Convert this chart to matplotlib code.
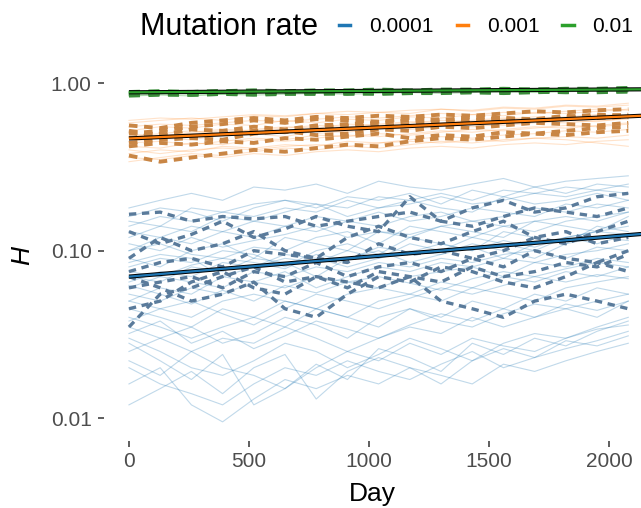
import matplotlib
matplotlib.use("Agg")
import matplotlib.pyplot as plt
from matplotlib.lines import Line2D
from matplotlib.ticker import FixedLocator, NullLocator

plt.rcParams['font.family'] = ['Liberation Sans', 'DejaVu Sans']

# sampling days of each replicate
days = [0, 130, 260, 390, 520, 650, 780, 910, 1040, 1170, 1300, 1430, 1560, 1690, 1820, 1950, 2080]

# ---- mutation rate 0.0001 ----
blue_thin = [
    [0.18, 0.2, 0.22, 0.2, 0.24, 0.23, 0.25, 0.22, 0.26, 0.24, 0.23, 0.25, 0.27, 0.24, 0.26, 0.27, 0.28],
    [0.15, 0.14, 0.18, 0.17, 0.19, 0.2, 0.18, 0.21, 0.2, 0.22, 0.19, 0.23, 0.21, 0.24, 0.22, 0.25, 0.24],
    [0.12, 0.14, 0.13, 0.16, 0.15, 0.17, 0.19, 0.16, 0.18, 0.2, 0.18, 0.17, 0.21, 0.19, 0.2, 0.22, 0.2],
    [0.10, 0.12, 0.11, 0.13, 0.12, 0.14, 0.13, 0.15, 0.14, 0.16, 0.17, 0.15, 0.16, 0.18, 0.17, 0.19, 0.18],
    [0.09, 0.08, 0.10, 0.11, 0.09, 0.12, 0.11, 0.1, 0.13, 0.12, 0.14, 0.13, 0.12, 0.15, 0.14, 0.13, 0.16],
    [0.08, 0.09, 0.085, 0.1, 0.095, 0.08, 0.1, 0.11, 0.095, 0.12, 0.11, 0.10, 0.13, 0.12, 0.11, 0.14, 0.13],
    [0.07, 0.065, 0.08, 0.075, 0.09, 0.085, 0.07, 0.09, 0.1, 0.085, 0.095, 0.11, 0.1, 0.09, 0.11, 0.12, 0.115],
    [0.06, 0.07, 0.065, 0.06, 0.075, 0.07, 0.08, 0.075, 0.085, 0.08, 0.09, 0.085, 0.095, 0.1, 0.09, 0.105, 0.1],
    [0.055, 0.05, 0.06, 0.055, 0.065, 0.06, 0.07, 0.065, 0.06, 0.07, 0.075, 0.08, 0.07, 0.085, 0.08, 0.09, 0.085],
    [0.05, 0.045, 0.04, 0.05, 0.055, 0.05, 0.045, 0.055, 0.06, 0.055, 0.065, 0.06, 0.07, 0.065, 0.075, 0.07, 0.08],
    [0.045, 0.04, 0.035, 0.045, 0.04, 0.05, 0.045, 0.04, 0.05, 0.055, 0.05, 0.06, 0.055, 0.05, 0.06, 0.065, 0.07],
    [0.04, 0.035, 0.03, 0.035, 0.04, 0.035, 0.045, 0.04, 0.035, 0.045, 0.04, 0.05, 0.045, 0.055, 0.05, 0.06, 0.055],
    [0.035, 0.03, 0.025, 0.03, 0.028, 0.035, 0.03, 0.025, 0.03, 0.035, 0.032, 0.04, 0.035, 0.04, 0.045, 0.04, 0.05],
    [0.03, 0.025, 0.02, 0.018, 0.022, 0.028, 0.025, 0.02, 0.024, 0.03, 0.026, 0.022, 0.028, 0.032, 0.03, 0.035, 0.04],
    [0.02, 0.016, 0.014, 0.012, 0.016, 0.02, 0.018, 0.022, 0.019, 0.017, 0.021, 0.025, 0.02, 0.023, 0.026, 0.029, 0.033],
    [0.016, 0.02, 0.012, 0.0095, 0.013, 0.017, 0.015, 0.018, 0.016, 0.02, 0.018, 0.016, 0.021, 0.019, 0.022, 0.025, 0.028],
    [0.025, 0.03, 0.035, 0.028, 0.032, 0.04, 0.036, 0.03, 0.04, 0.045, 0.038, 0.035, 0.042, 0.048, 0.045, 0.05, 0.055],
    [0.11, 0.1, 0.12, 0.105, 0.115, 0.125, 0.14, 0.12, 0.13, 0.125, 0.14, 0.15, 0.14, 0.13, 0.15, 0.16, 0.17],
    [0.065, 0.075, 0.07, 0.085, 0.08, 0.095, 0.09, 0.08, 0.09, 0.1, 0.095, 0.105, 0.09, 0.11, 0.12, 0.11, 0.125],
    [0.13, 0.12, 0.14, 0.13, 0.15, 0.14, 0.16, 0.15, 0.17, 0.15, 0.16, 0.18, 0.17, 0.16, 0.19, 0.18, 0.2],
    [0.085, 0.095, 0.09, 0.07, 0.08, 0.09, 0.085, 0.1, 0.09, 0.11, 0.1, 0.12, 0.11, 0.1, 0.12, 0.13, 0.14],
    [0.022, 0.018, 0.025, 0.02, 0.018, 0.015, 0.02, 0.025, 0.022, 0.028, 0.024, 0.03, 0.027, 0.025, 0.03, 0.034, 0.036],
    [0.05, 0.06, 0.055, 0.07, 0.065, 0.075, 0.06, 0.07, 0.08, 0.075, 0.085, 0.08, 0.09, 0.085, 0.095, 0.1, 0.11],
    [0.14, 0.16, 0.15, 0.17, 0.16, 0.18, 0.17, 0.2, 0.18, 0.19, 0.21, 0.19, 0.2, 0.22, 0.21, 0.23, 0.22],
    [0.028, 0.022, 0.017, 0.024, 0.012, 0.015, 0.021, 0.017, 0.026, 0.023, 0.019, 0.028, 0.024, 0.03, 0.027, 0.033, 0.038],
    [0.012, 0.015, 0.019, 0.014, 0.02, 0.024, 0.013, 0.019, 0.023, 0.02, 0.016, 0.022, 0.026, 0.023, 0.029, 0.027, 0.031],
    [0.038, 0.045, 0.05, 0.042, 0.036, 0.045, 0.055, 0.05, 0.045, 0.052, 0.06, 0.055, 0.062, 0.07, 0.065, 0.072, 0.068],
    [0.1, 0.11, 0.095, 0.09, 0.105, 0.1, 0.12, 0.13, 0.11, 0.14, 0.13, 0.12, 0.14, 0.15, 0.16, 0.15, 0.17],
    [0.16, 0.18, 0.17, 0.15, 0.18, 0.2, 0.19, 0.18, 0.21, 0.2, 0.22, 0.2, 0.23, 0.22, 0.24, 0.23, 0.25],
    [0.062, 0.055, 0.048, 0.058, 0.05, 0.062, 0.056, 0.065, 0.07, 0.064, 0.058, 0.068, 0.075, 0.07, 0.078, 0.085, 0.08],
    [0.075, 0.07, 0.082, 0.09, 0.085, 0.078, 0.095, 0.088, 0.105, 0.098, 0.11, 0.1, 0.115, 0.105, 0.12, 0.13, 0.125],
    [0.032, 0.038, 0.028, 0.033, 0.026, 0.031, 0.038, 0.034, 0.03, 0.036, 0.042, 0.038, 0.045, 0.04, 0.048, 0.044, 0.05],
]
blue_dash = [
    [0.165, 0.17, 0.15, 0.16, 0.155, 0.16, 0.14, 0.15, 0.16, 0.17, 0.15, 0.18, 0.2, 0.17, 0.18, 0.21, 0.22],
    [0.13, 0.11, 0.125, 0.15, 0.12, 0.135, 0.16, 0.14, 0.13, 0.21, 0.15, 0.14, 0.16, 0.18, 0.17, 0.16, 0.18],
    [0.09, 0.12, 0.10, 0.11, 0.13, 0.10, 0.09, 0.12, 0.14, 0.12, 0.11, 0.13, 0.15, 0.12, 0.11, 0.13, 0.15],
    [0.075, 0.085, 0.09, 0.08, 0.10, 0.095, 0.09, 0.085, 0.11, 0.095, 0.10, 0.09, 0.10, 0.12, 0.13, 0.11, 0.12],
    [0.06, 0.065, 0.07, 0.06, 0.075, 0.07, 0.085, 0.07, 0.08, 0.085, 0.075, 0.09, 0.08, 0.10, 0.09, 0.085, 0.10],
    [0.045, 0.05, 0.065, 0.075, 0.06, 0.055, 0.07, 0.06, 0.075, 0.07, 0.065, 0.08, 0.07, 0.075, 0.085, 0.08, 0.095],
    [0.035, 0.055, 0.06, 0.07, 0.08, 0.065, 0.07, 0.065, 0.06, 0.07, 0.05, 0.045, 0.04, 0.05, 0.055, 0.05, 0.045],
    [0.07, 0.06, 0.05, 0.055, 0.065, 0.045, 0.04, 0.055, 0.07, 0.065, 0.08, 0.075, 0.065, 0.06, 0.07, 0.085, 0.075],
]

# ---- mutation rate 0.001 ----
orange_thin = [
    [0.58, 0.6, 0.62, 0.6, 0.64, 0.63, 0.66, 0.65, 0.67, 0.66, 0.7, 0.68, 0.71, 0.7, 0.73, 0.72, 0.74],
    [0.52, 0.55, 0.54, 0.57, 0.56, 0.6, 0.58, 0.61, 0.6, 0.63, 0.62, 0.65, 0.64, 0.67, 0.66, 0.68, 0.7],
    [0.48, 0.5, 0.52, 0.5, 0.53, 0.55, 0.54, 0.57, 0.56, 0.58, 0.6, 0.59, 0.61, 0.63, 0.62, 0.64, 0.65],
    [0.45, 0.47, 0.46, 0.49, 0.5, 0.48, 0.52, 0.51, 0.54, 0.53, 0.55, 0.57, 0.56, 0.58, 0.6, 0.59, 0.62],
    [0.42, 0.41, 0.44, 0.43, 0.46, 0.45, 0.47, 0.49, 0.48, 0.5, 0.52, 0.51, 0.53, 0.55, 0.54, 0.56, 0.58],
    [0.38, 0.4, 0.39, 0.42, 0.41, 0.43, 0.42, 0.45, 0.44, 0.46, 0.48, 0.47, 0.49, 0.5, 0.52, 0.51, 0.53],
    [0.36, 0.35, 0.37, 0.36, 0.38, 0.37, 0.39, 0.4, 0.39, 0.41, 0.42, 0.41, 0.43, 0.44, 0.43, 0.45, 0.46],
    [0.5, 0.48, 0.51, 0.53, 0.52, 0.54, 0.56, 0.55, 0.57, 0.59, 0.58, 0.6, 0.62, 0.61, 0.63, 0.65, 0.64],
    [0.55, 0.57, 0.56, 0.58, 0.6, 0.59, 0.61, 0.63, 0.62, 0.64, 0.66, 0.65, 0.67, 0.66, 0.68, 0.7, 0.69],
    [0.44, 0.45, 0.43, 0.45, 0.47, 0.46, 0.49, 0.48, 0.5, 0.49, 0.51, 0.53, 0.52, 0.54, 0.56, 0.55, 0.57],
    [0.4, 0.38, 0.4, 0.41, 0.4, 0.42, 0.43, 0.42, 0.44, 0.45, 0.44, 0.46, 0.45, 0.47, 0.46, 0.44, 0.42],
    [0.6, 0.62, 0.61, 0.63, 0.65, 0.64, 0.66, 0.68, 0.67, 0.69, 0.7, 0.69, 0.72, 0.71, 0.74, 0.73, 0.76],
    [0.47, 0.49, 0.5, 0.52, 0.51, 0.53, 0.5, 0.52, 0.55, 0.54, 0.56, 0.55, 0.57, 0.59, 0.58, 0.6, 0.61],
    [0.34, 0.36, 0.38, 0.37, 0.39, 0.41, 0.4, 0.42, 0.41, 0.43, 0.45, 0.44, 0.46, 0.47, 0.48, 0.47, 0.49],
]
orange_dash = [
    [0.56, 0.54, 0.58, 0.6, 0.62, 0.6, 0.63, 0.62, 0.64, 0.63, 0.65, 0.64, 0.66, 0.68, 0.67, 0.69, 0.7],
    [0.5, 0.52, 0.55, 0.57, 0.6, 0.58, 0.61, 0.6, 0.59, 0.62, 0.6, 0.63, 0.62, 0.6, 0.63, 0.65, 0.64],
    [0.47, 0.5, 0.48, 0.5, 0.52, 0.51, 0.54, 0.56, 0.55, 0.57, 0.59, 0.58, 0.6, 0.59, 0.62, 0.63, 0.65],
    [0.44, 0.46, 0.47, 0.46, 0.5, 0.52, 0.49, 0.5, 0.53, 0.52, 0.55, 0.54, 0.56, 0.58, 0.57, 0.56, 0.58],
    [0.42, 0.44, 0.43, 0.45, 0.44, 0.47, 0.46, 0.48, 0.5, 0.47, 0.49, 0.48, 0.51, 0.5, 0.52, 0.54, 0.55],
    [0.37, 0.34, 0.36, 0.38, 0.4, 0.39, 0.41, 0.43, 0.42, 0.45, 0.47, 0.46, 0.48, 0.5, 0.49, 0.51, 0.52],
    [0.52, 0.49, 0.53, 0.52, 0.55, 0.53, 0.56, 0.57, 0.58, 0.6, 0.61, 0.6, 0.62, 0.61, 0.64, 0.62, 0.63],
]

# ---- mutation rate 0.01 ----
green_thin = [
    [0.87, 0.88, 0.87, 0.89, 0.88, 0.89, 0.88, 0.9, 0.89, 0.9, 0.9, 0.91, 0.9, 0.91, 0.92, 0.91, 0.92],
    [0.85, 0.86, 0.87, 0.86, 0.87, 0.88, 0.87, 0.88, 0.89, 0.88, 0.89, 0.9, 0.89, 0.9, 0.9, 0.91, 0.9],
    [0.89, 0.9, 0.89, 0.9, 0.91, 0.9, 0.91, 0.9, 0.92, 0.91, 0.92, 0.91, 0.93, 0.92, 0.93, 0.93, 0.94],
    [0.84, 0.85, 0.84, 0.86, 0.85, 0.86, 0.87, 0.86, 0.87, 0.88, 0.87, 0.88, 0.89, 0.88, 0.89, 0.9, 0.89],
    [0.88, 0.87, 0.89, 0.88, 0.9, 0.89, 0.88, 0.89, 0.9, 0.91, 0.9, 0.92, 0.91, 0.9, 0.92, 0.93, 0.92],
    [0.86, 0.88, 0.86, 0.87, 0.89, 0.87, 0.89, 0.88, 0.88, 0.9, 0.89, 0.89, 0.91, 0.9, 0.91, 0.92, 0.91],
]
green_dash = [
    [0.87, 0.88, 0.88, 0.89, 0.88, 0.88, 0.89, 0.89, 0.9, 0.89, 0.9, 0.9, 0.9, 0.91, 0.91, 0.91, 0.92],
    [0.86, 0.87, 0.86, 0.87, 0.87, 0.88, 0.88, 0.87, 0.88, 0.88, 0.89, 0.89, 0.89, 0.9, 0.89, 0.9, 0.9],
    [0.88, 0.89, 0.88, 0.89, 0.9, 0.89, 0.9, 0.9, 0.91, 0.9, 0.91, 0.91, 0.92, 0.91, 0.92, 0.92, 0.93],
    [0.85, 0.86, 0.86, 0.87, 0.86, 0.87, 0.87, 0.88, 0.87, 0.88, 0.88, 0.89, 0.88, 0.89, 0.9, 0.89, 0.9],
]

# fitted trend (log-linear), start and end
fit_days = [0, 2140]
blue_fit = [0.070, 0.126]
orange_fit = [0.468, 0.64]
green_fit = [0.883, 0.92]

rates = ["0.0001", "0.001", "0.01"]
colors = ["#1f77b4", "#ff7f0e", "#2ca02c"]
dash_colors = ["#5a7b9b", "#c98645", "#3a8e3a"]
thin_alpha = [0.28, 0.22, 0.35]
dash_lw = [2.4, 2.8, 3.6]

groups = [
    (blue_thin, blue_dash, blue_fit),
    (orange_thin, orange_dash, orange_fit),
    (green_thin, green_dash, green_fit),
]

fig = plt.figure(figsize=(6.41, 5.08), dpi=100)
ax = fig.add_axes([104 / 641, 67 / 508, 537 / 641, 371 / 508])

for i, (thin, dash, fit) in enumerate(groups):
    for line in thin:
        ax.plot(days, line, color=colors[i], alpha=thin_alpha[i], lw=0.8, zorder=1)
    for line in dash:
        ax.plot(days, line, color=dash_colors[i], lw=dash_lw[i], dashes=(2.2, 1.7), zorder=2)
    ax.plot(fit_days, fit, color="black", lw=3.0, zorder=3, solid_capstyle="butt")
    ax.plot(fit_days, fit, color=colors[i], lw=1.6, zorder=4, solid_capstyle="butt")

ax.set_yscale("log")
ax.set_xlim(-104, 2133)
ax.set_ylim(0.0073, 1.2)

ax.yaxis.set_major_locator(FixedLocator([0.01, 0.1, 1.0]))
ax.yaxis.set_minor_locator(NullLocator())
ax.set_yticklabels(["0.01", "0.10", "1.00"])
ax.set_xticks([0, 500, 1000, 1500, 2000])

for s in ax.spines.values():
    s.set_visible(False)
ax.tick_params(axis="both", colors="#333333", labelcolor="#4d4d4d",
               labelsize=15, length=4, width=1.1)
ax.tick_params(axis="y", pad=5)
ax.tick_params(axis="x", pad=4)

ax.set_xlabel("Day", fontsize=19, labelpad=8)
ax.set_ylabel("H", fontsize=19, style="italic", labelpad=12)

# legend on top, title to the left of keys
fig.text(140 / 641, 1 - 27 / 508, "Mutation rate", fontsize=22, va="center", ha="left")
handles = [Line2D([], [], color=c, lw=2.5) for c in colors]
fig.legend(handles, rates, loc="center left", bbox_to_anchor=(339 / 641, 1 - 27 / 508),
           ncol=3, frameon=False, fontsize=15, handlelength=0.55, handletextpad=0.9,
           columnspacing=1.1, borderaxespad=0, borderpad=0)

fig.savefig("out.png", dpi=100)
